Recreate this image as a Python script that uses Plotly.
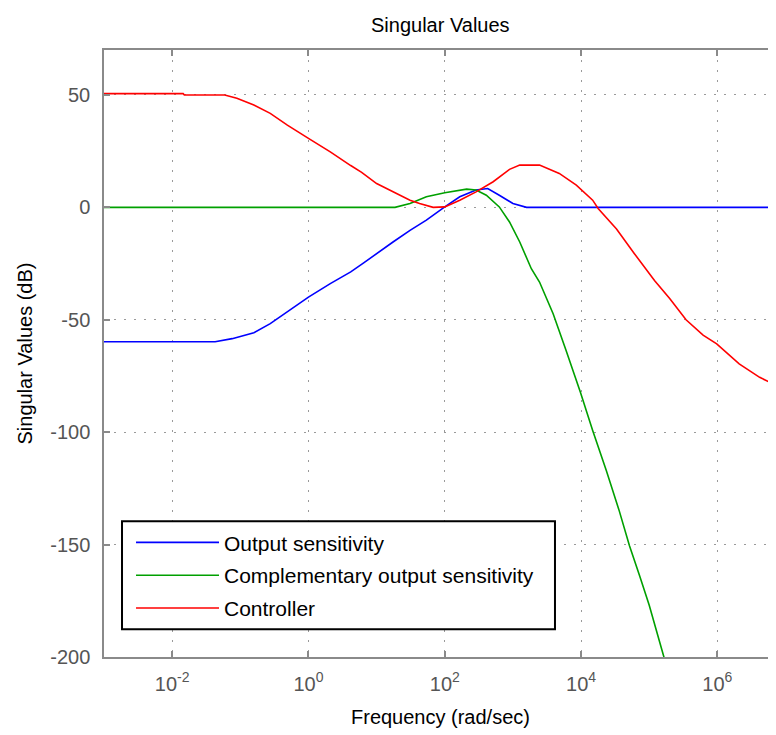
import plotly.graph_objects as go

# ---- data (frequency in rad/sec, magnitude in dB) ----
out_sens_freq = [1e-3, 0.0427, 0.0759, 0.158, 0.275, 0.49, 1.0, 2.09, 4.17, 6.46, 10.0,
                 17.4, 30.9, 53.7, 100.0, 166.0, 288.0, 427.0, 631.0, 1000.0, 1585.0, 1e7]
out_sens_db = [-59.8, -59.8, -58.4, -55.8, -51.7, -46.6, -39.9, -33.9, -28.7, -24.7, -20.5,
               -15.4, -10.2, -5.7, 0.2, 4.7, 7.7, 8.4, 5.4, 1.7, 0.0, 0.0]

comp_sens_freq = [1e-3, 18.6, 30.9, 53.7, 100.0, 209.0, 288.0, 407.0, 631.0, 891.0, 1259.0,
                  1862.0, 2455.0, 3890.0, 6026.0, 9772.0, 14791.0, 23442.0, 36308.0,
                  51286.0, 72444.0, 1e5, 165959.0]
comp_sens_db = [0.0, 0.0, 1.7, 4.7, 6.5, 8.1, 7.7, 5.4, 0.2, -6.5, -15.4,
                -27.3, -33.2, -47.3, -63.7, -82.2, -99.3, -117.0, -135.0,
                -150.5, -164.0, -177.0, -200.5]

controller_freq = [1e-3, 1.45e-2, 1.51e-2, 5.9e-2, 8.9e-2, 0.158, 0.275, 0.49, 1.0, 2.09,
                   4.17, 6.03, 10.0, 17.4, 30.9, 42.7, 67.6, 100.0, 166.0, 288.0, 513.0,
                   891.0, 1259.0, 2455.0, 4786.0, 8511.0, 14791.0, 17783.0, 33113.0,
                   60256.0, 120226.0, 199526.0, 346737.0, 616595.0, 977237.0,
                   2.089e6, 4.169e6, 7.244e6]
controller_db = [50.6, 50.6, 50.0, 50.0, 48.5, 45.5, 41.8, 36.6, 30.7, 24.7,
                 18.6, 15.6, 10.6, 6.9, 3.2, 1.7, 0.0, 0.2, 3.2, 6.9, 11.4,
                 16.9, 18.8, 18.8, 15.1, 9.9, 3.2, -0.5, -9.6,
                 -20.5, -32.6, -40.5, -50.0, -56.8, -60.7,
                 -69.6, -75.6, -79.2]

series_names = ["Output sensitivity", "Complementary output sensitivity", "Controller"]
series_colors = ["#0000FF", "#00A000", "#FF0000"]

x_tick_vals = [1e-2, 1e0, 1e2, 1e4, 1e6]
x_tick_text = ["10<sup>-2</sup>", "10<sup>0</sup>", "10<sup>2</sup>", "10<sup>4</sup>", "10<sup>6</sup>"]
y_tick_vals = [-200, -150, -100, -50, 0, 50]
y_tick_text = ["-200", "-150", "-100", "-50", "0", "50"]

FONT = "Liberation Sans, Arial, sans-serif"

fig = go.Figure()
for i, (fx, fy) in enumerate([(out_sens_freq, out_sens_db),
                              (comp_sens_freq, comp_sens_db),
                              (controller_freq, controller_db)]):
    fig.add_trace(go.Scatter(x=fx, y=fy, mode="lines", name=series_names[i],
                             legendgroup="g%d" % i,
                             line=dict(color=series_colors[i], width=1.6)))

axis_common = dict(
    showline=True, linecolor="#8a8a8a", linewidth=1.5,
    ticks="inside", ticklen=6, tickcolor="#8a8a8a", tickwidth=1.5,
    showgrid=True, gridcolor="#9a9a9a", gridwidth=1, griddash="2px,8px",
    zeroline=False, ticklabelstandoff=8,
    tickfont=dict(family=FONT, size=20, color="#555555"),
)

# page body has an 8px margin, so the figure is sized/offset to fit the 776x735 window
fig.update_layout(
    width=768, height=727,
    margin=dict(l=96, r=0, t=42, b=78),
    paper_bgcolor="white", plot_bgcolor="white",
    showlegend=True,
    font=dict(family=FONT, size=20, color="black"),
    xaxis=dict(type="log", range=[-3, 6.86], tickvals=x_tick_vals, ticktext=x_tick_text,
               mirror="ticks", **axis_common),
    yaxis=dict(range=[-200, 70], tickvals=y_tick_vals, ticktext=y_tick_text,
               mirror=False, **axis_common),
    legend=dict(x=0.0402, y=0.222, xanchor="left", yanchor="top",
                bgcolor="rgba(0,0,0,0)", borderwidth=0,
                font=dict(family=FONT, size=21, color="black"),
                itemwidth=83, traceorder="grouped", tracegroupgap=2.5),
    shapes=[dict(type="rect", xref="paper", yref="paper",
                 x0=0.0268, x1=0.6711, y0=0.0457, y1=0.2237,
                 line=dict(color="black", width=2), fillcolor="white", layer="above")],
    annotations=[
        dict(text="Singular Values", xref="paper", yref="paper", x=0.5, y=1.041,
             showarrow=False, xanchor="center", yanchor="middle",
             font=dict(family=FONT, size=20, color="black")),
        dict(text="Frequency (rad/sec)", xref="paper", yref="paper", x=0.5, y=-0.0994,
             showarrow=False, xanchor="center", yanchor="middle",
             font=dict(family=FONT, size=20, color="black")),
        dict(text="Singular Values (dB)", xref="paper", yref="paper", x=-0.1176, y=0.5,
             showarrow=False, xanchor="center", yanchor="middle", textangle=-90,
             font=dict(family=FONT, size=20, color="black")),
    ],
)

fig.write_html("out.html")
